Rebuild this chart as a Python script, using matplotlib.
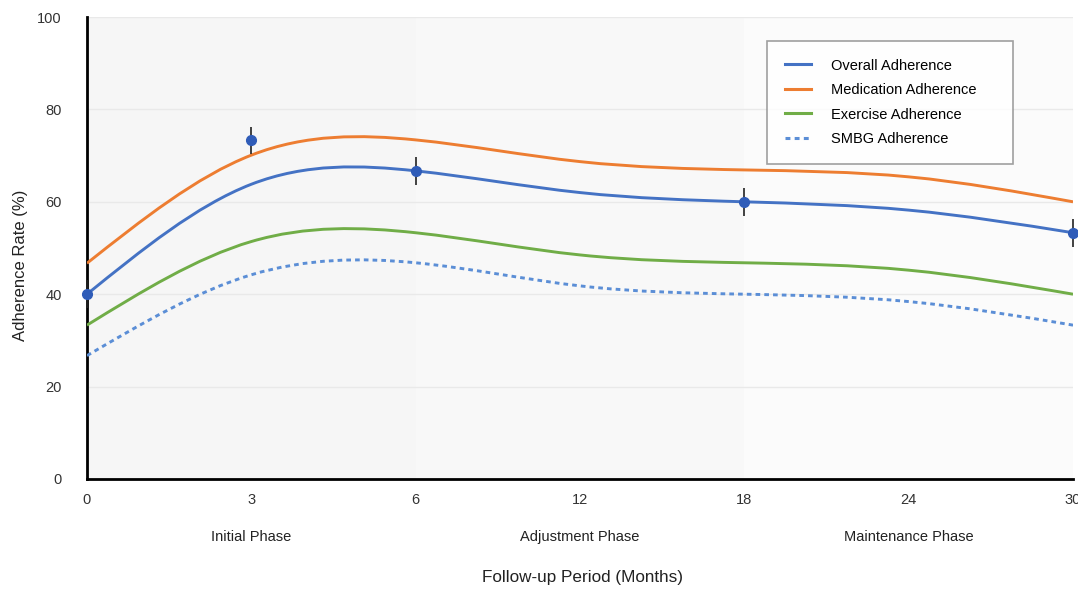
import matplotlib
matplotlib.use("Agg")
import numpy as np
import matplotlib.pyplot as plt
from matplotlib.path import Path
from matplotlib.patches import PathPatch
from matplotlib.lines import Line2D

plt.rcParams['font.family'] = ['Liberation Sans', 'DejaVu Sans']

# Data
months = ["0", "3", "6", "12", "18", "24", "30"]
overall = [40, 63.8, 66.7, 62.0, 60.0, 58.2, 53.3]
medication = [46.7, 70.1, 73.4, 68.7, 66.9, 65.4, 60.0]
exercise = [33.3, 51.4, 53.3, 48.5, 46.8, 45.2, 40.0]
smbg = [26.7, 44.2, 46.8, 41.8, 40.0, 38.4, 33.3]

# observed overall points with error bars (index into months)
obs_idx = [0, 1, 2, 4, 6]
obs_val = [40, 73.3, 66.7, 60, 53.3]
obs_err = [3, 3, 3, 3, 3]

phases = ["Initial Phase", "Adjustment Phase", "Maintenance Phase"]
phase_spans = [(0, 2), (2, 4), (4, 6)]
phase_colors = ["#f6f6f6", "#f8f8f8", "#fbfbfb"]


def smooth_path(ys):
    # natural cubic spline (unit spacing) drawn as bezier segments
    y = np.asarray(ys, dtype=float)
    n = len(y)
    A = np.zeros((n, n))
    r = np.zeros(n)
    A[0, 0], A[0, 1], r[0] = 2, 1, 3 * (y[1] - y[0])
    A[-1, -2], A[-1, -1], r[-1] = 1, 2, 3 * (y[-1] - y[-2])
    for i in range(1, n - 1):
        A[i, i - 1], A[i, i], A[i, i + 1] = 1, 4, 1
        r[i] = 3 * (y[i + 1] - y[i - 1])
    m = np.linalg.solve(A, r)
    verts = [(0, y[0])]
    codes = [Path.MOVETO]
    for i in range(n - 1):
        verts += [(i + 1 / 3, y[i] + m[i] / 3),
                  (i + 2 / 3, y[i + 1] - m[i + 1] / 3),
                  (i + 1, y[i + 1])]
        codes += [Path.CURVE4] * 3
    return Path(verts, codes)


fig = plt.figure(figsize=(10.78, 5.89), dpi=100)
ax = fig.add_axes([0.0807, 0.1868, 0.9147, 0.7843])

x = list(range(len(months)))

# phase bands
for (x0, x1), c in zip(phase_spans, phase_colors):
    ax.axvspan(x0, x1, color=c, zorder=0, lw=0)

for yv in [20, 40, 60, 80, 100]:
    ax.axhline(yv, color="#e9e9e9", lw=1, zorder=1)

series = [
    ("Overall Adherence", overall, "#4472c4", "-"),
    ("Medication Adherence", medication, "#ed7d31", "-"),
    ("Exercise Adherence", exercise, "#70ad47", "-"),
    ("SMBG Adherence", smbg, "#5b8ed6", (0, (1.6, 1.4))),
]

handles = []
for label, vals, col, ls in series:
    patch = PathPatch(smooth_path(vals), fill=False, edgecolor=col,
                      lw=2.1, linestyle=ls, zorder=3, capstyle="butt")
    ax.add_patch(patch)
    handles.append(Line2D([], [], color=col, lw=2.2, linestyle=ls, label=label))

ax.errorbar(obs_idx, obs_val, yerr=obs_err, fmt="o", color="#2f5cb8",
            ecolor="#222222", elinewidth=1.2, capsize=0, markersize=7,
            zorder=5, clip_on=False)

ax.set_xlim(0, 6)
ax.set_ylim(0, 100)
ax.set_xticks(x)
ax.set_xticklabels(months)
ax.set_yticks([0, 20, 40, 60, 80, 100])
ax.tick_params(length=0, labelsize=10.5, colors="#333333", pad=10)
ax.tick_params(axis="y", pad=18)

for s in ["top", "right"]:
    ax.spines[s].set_visible(False)
ax.spines["left"].set_linewidth(2)
ax.spines["bottom"].set_linewidth(2)
ax.spines["left"].set_color("black")
ax.spines["bottom"].set_color("black")

ax.set_ylabel("Adherence Rate (%)", fontsize=12, color="#222222")
ax.yaxis.set_label_coords(-0.060, 0.463)

# phase labels under the axis
for name, (x0, x1) in zip(phases, phase_spans):
    ax.text((x0 + x1) / 2, -12.5, name, ha="center", va="center",
            fontsize=10.5, color="#222222", clip_on=False)

fig.text(0.540, 0.0195, "Follow-up Period (Months)", ha="center", va="center",
         fontsize=12.3, color="#222222")

leg = ax.legend(handles=handles, loc="upper left",
                bbox_to_anchor=(0.6897, 0.948, 0.2495, 0), mode="expand",
                fontsize=10.5, frameon=True, fancybox=False, edgecolor="#888888",
                handlelength=1.8, handletextpad=1.4, labelspacing=0.72,
                borderpad=1.2, borderaxespad=0)
leg.get_frame().set_linewidth(1.2)
leg.get_frame().set_facecolor("white")
leg.set_zorder(6)

fig.savefig("out.png", dpi=100)
